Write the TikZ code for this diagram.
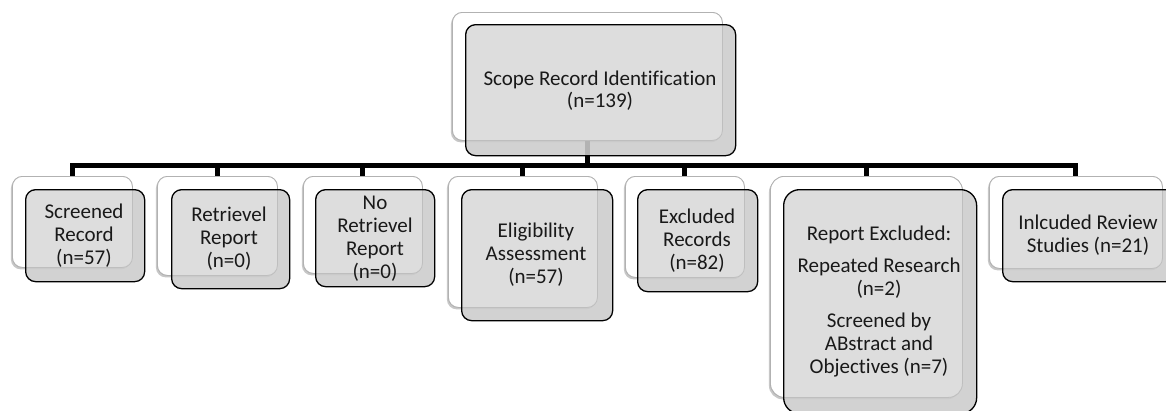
\documentclass[tikz,border=0pt]{standalone}
\usepackage{fontspec}
\setmainfont[Ligatures={NoCommon}]{Carlito}
\usetikzlibrary{shadows}
\tikzset{
  wbox/.style={draw=black!35, line width=0.8pt, fill=white, rounded corners=10pt, anchor=north west, inner sep=0pt,
    drop shadow={shadow xshift=-1.5pt, shadow yshift=-2pt, opacity=0.22, fill=black}},
  gfill/.style={fill=black!20, fill opacity=0.88, draw=none, rounded corners=10pt, anchor=north west, inner sep=0pt},
  wover/.style={fill=white, fill opacity=0.25, draw=black!30, draw opacity=0.5, line width=0.8pt, rounded corners=10pt, anchor=north west, inner sep=0pt},
  gline/.style={draw=black, line width=1.3pt, rounded corners=10pt, anchor=north west, inner sep=0pt},
  conn/.style={draw=black, line width=5pt, line join=miter},
  lbl/.style={align=center, font=\fontsize{21}{23}\selectfont, inner sep=0pt, text=black!90}
}
\begin{document}
\begin{tikzpicture}[x=1pt, y=-1pt]
\useasboundingbox (0,0) rectangle (1166,410);
\clip (0,0) rectangle (1166,410);
% white back boxes
\node[wbox, minimum width=270pt, minimum height=128pt] (topw) at (452,12) {};
\node[wbox, minimum width=120pt, minimum height=91pt] (c1w) at (12,176) {};
\node[wbox, minimum width=120pt, minimum height=99pt] (c2w) at (157,176) {};
\node[wbox, minimum width=119pt, minimum height=97pt] (c3w) at (303,176) {};
\node[wbox, minimum width=149pt, minimum height=131pt] (c4w) at (448,176) {};
\node[wbox, minimum width=119pt, minimum height=101pt] (c5w) at (625,176) {};
\node[wbox, minimum width=192pt, minimum height=221pt, rounded corners=14pt] (c6w) at (770,176) {};
\node[wbox, minimum width=173pt, minimum height=92pt] (c7w) at (989,176) {};
% connectors
\coordinate (bus) at (0,165);
\foreach \c in {c1w,c2w,c3w,c4w,c5w,c6w,c7w}{
  \draw[conn] (topw.south) -- (topw.south |- bus) -| (\c.north);
}
% grey front boxes (fill)
\node[gfill, minimum width=270pt, minimum height=131pt] (topg) at (465,24) {};
\node[gfill, minimum width=119pt, minimum height=92pt] (c1g) at (25,189) {};
\node[gfill, minimum width=118pt, minimum height=99pt] (c2g) at (171,189) {};
\node[gfill, minimum width=119pt, minimum height=97pt] (c3g) at (315,189) {};
\node[gfill, minimum width=151pt, minimum height=131pt] (c4g) at (461,189) {};
\node[gfill, minimum width=120pt, minimum height=102pt] (c5g) at (637,189) {};
\node[gfill, minimum width=193pt, minimum height=224pt, rounded corners=16pt] (c6g) at (783,189) {};
\node[gfill, minimum width=173pt, minimum height=92pt] (c7g) at (1002,189) {};
% white boxes seen through
\node[wover, minimum width=270pt, minimum height=128pt] (topo) at (452,12) {};
\node[wover, minimum width=120pt, minimum height=91pt] (c1o) at (12,176) {};
\node[wover, minimum width=120pt, minimum height=99pt] (c2o) at (157,176) {};
\node[wover, minimum width=119pt, minimum height=97pt] (c3o) at (303,176) {};
\node[wover, minimum width=149pt, minimum height=131pt] (c4o) at (448,176) {};
\node[wover, minimum width=119pt, minimum height=101pt] (c5o) at (625,176) {};
\node[wover, minimum width=192pt, minimum height=221pt, rounded corners=14pt] (c6o) at (770,176) {};
\node[wover, minimum width=173pt, minimum height=92pt] (c7o) at (989,176) {};
% grey box outlines
\node[gline, minimum width=270pt, minimum height=131pt] (topl) at (465,24) {};
\node[gline, minimum width=119pt, minimum height=92pt] (c1l) at (25,189) {};
\node[gline, minimum width=118pt, minimum height=99pt] (c2l) at (171,189) {};
\node[gline, minimum width=119pt, minimum height=97pt] (c3l) at (315,189) {};
\node[gline, minimum width=151pt, minimum height=131pt] (c4l) at (461,189) {};
\node[gline, minimum width=120pt, minimum height=102pt] (c5l) at (637,189) {};
\node[gline, minimum width=193pt, minimum height=224pt, rounded corners=16pt] (c6l) at (783,189) {};
\node[gline, minimum width=173pt, minimum height=92pt] (c7l) at (1002,189) {};
% labels
\node[lbl, font=\fontsize{21}{22}\selectfont] (t0) at (600,90.5) {Scope Record Identification\\(n=139)};
\node[lbl] (t1) at (84,235.5) {Screened\\Record\\(n=57)};
\node[lbl] (t2) at (229,239) {Retrievel\\Report\\(n=0)};
\node[lbl] (t3) at (375,238.5) {No\\Retrievel\\Report\\(n=0)};
\node[lbl] (t4) at (536,255) {Eligibility\\Assessment\\(n=57)};
\node[lbl] (t5) at (697,240.5) {Excluded\\Records\\(n=82)};
\node[lbl] (t6) at (879,302) {Report Excluded:\\[9pt]Repeated Research\\(n=2)\\[9pt]Screened by\\ABstract and\\Objectives (n=7)};
\node[lbl] (t7) at (1088,235.5) {Inlcuded Review\\Studies (n=21)};
\end{tikzpicture}
\end{document}
